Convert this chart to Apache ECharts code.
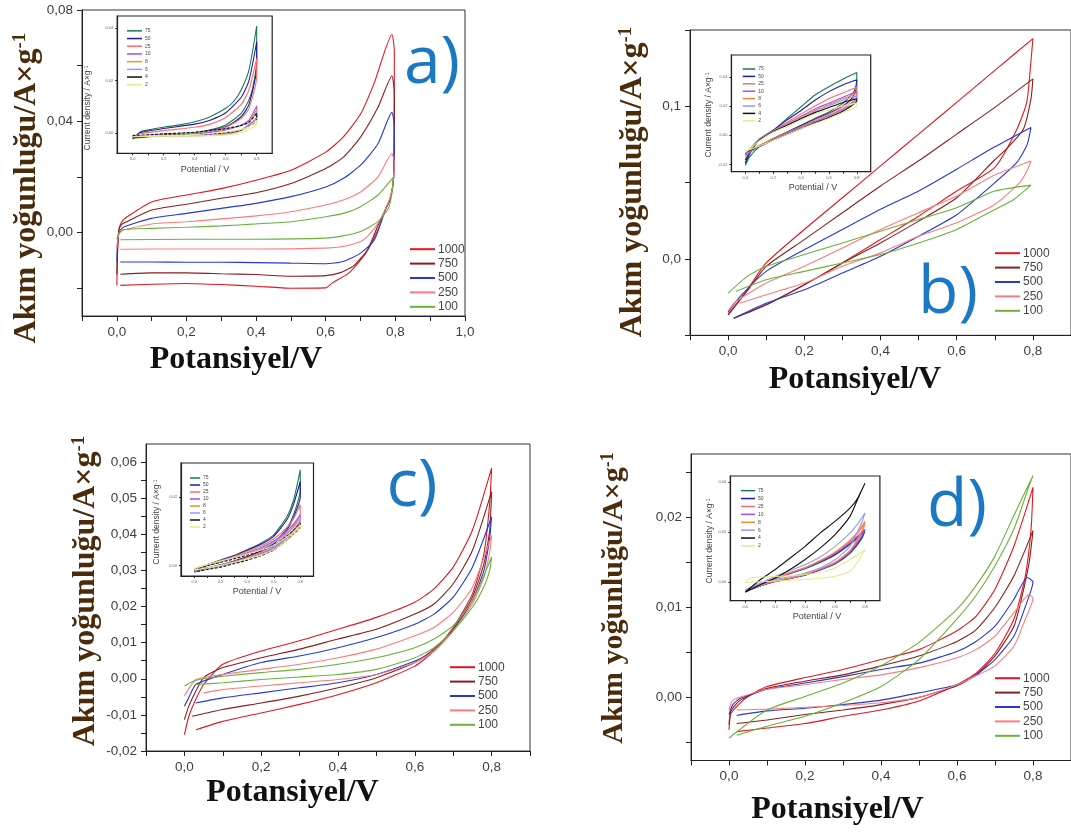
<!DOCTYPE html>
<html><head><meta charset="utf-8">
<script src="https://cdn.jsdelivr.net/npm/echarts@6/dist/echarts.min.js"></script>
<style>html,body{margin:0;padding:0;background:#fff}#c{width:1071px;height:832px}</style>
</head><body><div id="c"></div>
<script>
// ---------- names / colours ----------
const mainNames = ['1000','750','500','250','100'];
const insetNames = ['75','50','25','10','8','6','4','2'];

// ---------- tick labels ----------
const xLabelsA = [0,0.2,0.4,0.6,0.8,1.0];
const xTicksA = [-0.1,0,0.1,0.2,0.3,0.4,0.5,0.6,0.7,0.8,0.9,1.0];
const xLabels = [0,0.2,0.4,0.6,0.8];
const xTicks = [-0.1,0,0.1,0.2,0.3,0.4,0.5,0.6,0.7,0.8,0.9];
const yLabelsA = [0,0.04,0.08];
const yTicksA = [-0.02,0,0.02,0.04,0.06,0.08];
const yLabelsB = [0,0.1];
const yTicksB = [-0.05,0,0.05,0.1,0.15];
const yLabelsC = [-0.02,-0.01,0,0.01,0.02,0.03,0.04,0.05,0.06];
const yTicksC = [-0.02,-0.015,-0.01,-0.005,0,0.005,0.01,0.015,0.02,0.025,0.03,0.035,0.04,0.045,0.05,0.055,0.06];
const yLabelsD = [0,0.01,0.02];
const yTicksD = [-0.005,0,0.005,0.01,0.015,0.02,0.025];
const insXLabels = [0,0.2,0.4,0.6,0.8];
const insYLabelsA = [0,0.02,0.04];
const insYLabelsB = [-0.02,0,0.02,0.04];
const insYLabelsC = [0,0.02];
const insYLabelsD = [0,0.02,0.04];

// ---------- panel a (V, A/g) ----------
const a1000 = [[0,-0.019],[0.002,-0.008],[0.006,0.001],[0.015,0.004],[0.03,0.0057],[0.1,0.011],[0.2,0.0135],[0.3,0.0158],[0.4,0.0188],[0.5,0.0224],[0.6,0.0289],[0.65,0.0343],[0.7,0.0426],[0.74,0.054],[0.79,0.0712],[0.797,0.065],[0.795,0.02],[0.785,0.012],[0.772,0.0085],[0.75,0.001],[0.715,-0.0074],[0.667,-0.0145],[0.62,-0.018],[0.6,-0.0199],[0.5,-0.02],[0.4,-0.0193],[0.3,-0.0187],[0.2,-0.0183],[0.1,-0.0186],[0.01,-0.019]];
const a750 = [[0,-0.015],[0.002,-0.006],[0.006,0.001],[0.015,0.003],[0.03,0.004],[0.1,0.0081],[0.2,0.0102],[0.3,0.0123],[0.4,0.0143],[0.5,0.0176],[0.6,0.023],[0.65,0.027],[0.7,0.0343],[0.75,0.045],[0.79,0.0563],[0.797,0.05],[0.795,0.02],[0.785,0.012],[0.772,0.0085],[0.75,0.0025],[0.72,-0.0062],[0.68,-0.012],[0.64,-0.0145],[0.6,-0.0155],[0.5,-0.0157],[0.4,-0.0151],[0.3,-0.0148],[0.2,-0.0145],[0.1,-0.0145],[0.01,-0.015]];
const a500 = [[0,-0.0104],[0.002,-0.004],[0.008,0.0005],[0.02,0.002],[0.1,0.0051],[0.2,0.0069],[0.3,0.0087],[0.4,0.0105],[0.5,0.0129],[0.6,0.0164],[0.65,0.0194],[0.7,0.0242],[0.75,0.0319],[0.79,0.0432],[0.797,0.038],[0.795,0.02],[0.785,0.012],[0.772,0.0085],[0.74,-0.0026],[0.7,-0.0074],[0.65,-0.0104],[0.6,-0.0112],[0.5,-0.011],[0.4,-0.0108],[0.3,-0.0107],[0.2,-0.0107],[0.1,-0.0106],[0.01,-0.0106]];
const a250 = [[0,-0.0056],[0.003,-0.002],[0.01,0.0005],[0.02,0.001],[0.1,0.0031],[0.2,0.0039],[0.3,0.0049],[0.4,0.006],[0.5,0.0075],[0.6,0.0099],[0.65,0.0117],[0.7,0.0146],[0.75,0.02],[0.79,0.0283],[0.797,0.025],[0.79,0.015],[0.772,0.0085],[0.75,0.0033],[0.72,-0.0014],[0.7,-0.0032],[0.65,-0.005],[0.6,-0.0056],[0.4,-0.0059],[0.2,-0.0059],[0.01,-0.006]];
const a100 = [[0,-0.0024],[0.005,-0.0005],[0.02,0.001],[0.1,0.0015],[0.2,0.0019],[0.3,0.0024],[0.4,0.0031],[0.5,0.0039],[0.6,0.0057],[0.65,0.0069],[0.7,0.0093],[0.75,0.0135],[0.795,0.02],[0.79,0.014],[0.78,0.0087],[0.75,0.0039],[0.7,0.0004],[0.65,-0.0012],[0.6,-0.002],[0.4,-0.0024],[0.2,-0.0024],[0.01,-0.0026]];

// ---------- inset a ----------
const ia75 = [[0,-0.0023],[0.05,0.0006],[0.1,0.0013],[0.2,0.0023],[0.3,0.0032],[0.4,0.0044],[0.5,0.0063],[0.6,0.0095],[0.65,0.012],[0.7,0.0165],[0.75,0.024],[0.8,0.0408],[0.8,0.028],[0.78,0.019],[0.75,0.0127],[0.7,0.0076],[0.6,0.0032],[0.5,0.0013],[0.4,0.0003],[0.2,-0.0006],[0,-0.0019]];
const ia50 = [[0,-0.002],[0.05,0.0003],[0.2,0.0018],[0.4,0.0035],[0.5,0.005],[0.6,0.0078],[0.7,0.0137],[0.75,0.02],[0.8,0.0348],[0.8,0.025],[0.75,0.011],[0.7,0.0063],[0.6,0.0025],[0.4,0],[0.2,-0.0009],[0,-0.0016]];
const ia25 = [[0,-0.0015],[0.05,-0.0002],[0.2,0.001],[0.4,0.0023],[0.5,0.0035],[0.6,0.006],[0.7,0.011],[0.75,0.0165],[0.8,0.0285],[0.8,0.0215],[0.75,0.0095],[0.7,0.0057],[0.6,0.0023],[0.4,0],[0.2,-0.0009],[0,-0.0013]];
const ia10 = [[0,-0.0013],[0.2,-0.0006],[0.4,-0.0003],[0.6,0.0013],[0.7,0.0032],[0.75,0.005],[0.8,0.0104],[0.8,0.0063],[0.7,0.0013],[0.6,-0.0003],[0.4,-0.0009],[0.2,-0.001],[0,-0.001]];
const ia8 = [[0,-0.0012],[0.2,-0.0005],[0.4,0],[0.6,0.0015],[0.7,0.003],[0.75,0.0045],[0.8,0.0091],[0.8,0.0058],[0.7,0.0012],[0.6,-0.0002],[0.4,-0.0008],[0.2,-0.0009],[0,-0.0011]];
const ia6 = [[0,-0.0011],[0.2,-0.0003],[0.4,0.0002],[0.6,0.0016],[0.7,0.003],[0.75,0.0042],[0.8,0.0082],[0.8,0.0055],[0.7,0.0012],[0.6,0],[0.4,-0.0006],[0.2,-0.0008],[0,-0.001]];
const ia4 = [[0,-0.001],[0.2,-0.0002],[0.4,0.0004],[0.6,0.0018],[0.7,0.003],[0.75,0.0042],[0.8,0.0076],[0.8,0.005],[0.7,0.0012],[0.6,0.0002],[0.4,-0.0004],[0.2,-0.0006],[0,-0.0008]];
const ia2 = [[0,-0.0012],[0.2,-0.0008],[0.4,-0.0005],[0.6,0.0005],[0.7,0.0015],[0.75,0.0025],[0.8,0.005],[0.8,0.0035],[0.7,0.0003],[0.6,-0.0006],[0.4,-0.001],[0.2,-0.0011],[0,-0.0012]];

// ---------- panel b ----------
const b1000 = [[0,-0.0366],[0.05,-0.0202],[0.1,-0.0026],[0.2,0.0193],[0.3,0.0401],[0.4,0.061],[0.5,0.0818],[0.6,0.1026],[0.7,0.1235],[0.8,0.1443],[0.795,0.13],[0.784,0.1028],[0.758,0.085],[0.7,0.06],[0.6,0.0445],[0.5,0.028],[0.4,0.0127],[0.3,-0.0026],[0.2,-0.0169],[0.1,-0.03],[0.015,-0.0388]];
const b750 = [[0,-0.0366],[0.05,-0.021],[0.1,-0.0048],[0.2,0.0127],[0.3,0.0303],[0.4,0.0478],[0.5,0.0643],[0.6,0.0818],[0.7,0.0993],[0.8,0.118],[0.795,0.105],[0.775,0.085],[0.73,0.072],[0.7,0.065],[0.6,0.0401],[0.5,0.0248],[0.4,0.0105],[0.3,-0.0026],[0.2,-0.0169],[0.1,-0.03],[0.015,-0.0388]];
const b500 = [[0,-0.035],[0.03,-0.025],[0.1,-0.0081],[0.2,0.0061],[0.3,0.0193],[0.4,0.0325],[0.5,0.0445],[0.6,0.0588],[0.7,0.0735],[0.795,0.0862],[0.785,0.075],[0.758,0.0633],[0.7,0.05],[0.6,0.029],[0.5,0.0149],[0.4,0.0018],[0.3,-0.0092],[0.2,-0.0202],[0.1,-0.029],[0.015,-0.0388]];
const b250 = [[0,-0.034],[0.02,-0.028],[0.1,-0.0158],[0.2,-0.0048],[0.3,0.0072],[0.4,0.0193],[0.5,0.0303],[0.6,0.0412],[0.7,0.055],[0.795,0.0642],[0.785,0.058],[0.766,0.0502],[0.7,0.0357],[0.6,0.0237],[0.5,0.0149],[0.4,0.004],[0.3,-0.0048],[0.2,-0.0158],[0.1,-0.0235],[0.03,-0.029]];
const b100 = [[0,-0.0224],[0.05,-0.0114],[0.1,-0.0048],[0.2,0.0029],[0.3,0.0105],[0.4,0.0182],[0.5,0.0259],[0.6,0.0336],[0.7,0.0445],[0.795,0.0484],[0.75,0.039],[0.7,0.0324],[0.6,0.0193],[0.5,0.0105],[0.4,0.0029],[0.3,-0.0026],[0.2,-0.0081],[0.1,-0.0136],[0.02,-0.0213]];

// ---------- inset b ----------
const ib75 = [[0,-0.0207],[0.02,-0.015],[0.1,-0.0034],[0.2,0.0034],[0.3,0.0115],[0.4,0.0195],[0.5,0.0276],[0.6,0.0333],[0.7,0.0384],[0.8,0.043],[0.8,0.038],[0.78,0.03],[0.7,0.0218],[0.6,0.016],[0.5,0.0115],[0.4,0.0069],[0.3,0.0023],[0.2,-0.0023],[0.1,-0.008],[0.03,-0.015],[0,-0.0207]];
const ib50 = [[0,-0.019],[0.03,-0.012],[0.1,-0.0028],[0.2,0.0034],[0.3,0.0105],[0.4,0.017],[0.5,0.024],[0.6,0.0299],[0.7,0.0345],[0.8,0.038],[0.8,0.033],[0.77,0.026],[0.7,0.02],[0.6,0.015],[0.5,0.011],[0.4,0.0065],[0.3,0.002],[0.2,-0.0025],[0.1,-0.0075],[0.03,-0.012],[0,-0.017]];
const ib25 = [[0,-0.016],[0.03,-0.011],[0.1,-0.003],[0.2,0.003],[0.3,0.009],[0.4,0.0145],[0.5,0.02],[0.6,0.025],[0.7,0.029],[0.8,0.033],[0.8,0.028],[0.75,0.023],[0.7,0.0195],[0.6,0.0145],[0.5,0.0105],[0.4,0.006],[0.3,0.002],[0.2,-0.0025],[0.1,-0.007],[0,-0.014]];
const ib10 = [[0,-0.014],[0.03,-0.01],[0.1,-0.0025],[0.2,0.003],[0.3,0.008],[0.4,0.013],[0.5,0.018],[0.6,0.022],[0.7,0.026],[0.8,0.03],[0.8,0.026],[0.7,0.018],[0.6,0.0135],[0.5,0.0095],[0.4,0.0055],[0.3,0.0015],[0.2,-0.003],[0.1,-0.0075],[0,-0.013]];
const ib8 = [[0,-0.013],[0.1,-0.003],[0.2,0.0028],[0.3,0.0075],[0.4,0.0125],[0.5,0.017],[0.6,0.021],[0.7,0.025],[0.8,0.0287],[0.8,0.025],[0.7,0.0175],[0.6,0.013],[0.5,0.009],[0.4,0.005],[0.3,0.001],[0.2,-0.003],[0.1,-0.0075],[0,-0.012]];
const ib6 = [[0,-0.0135],[0.1,-0.0032],[0.2,0.0026],[0.3,0.0072],[0.4,0.012],[0.5,0.0163],[0.6,0.0202],[0.7,0.024],[0.8,0.027],[0.8,0.0245],[0.7,0.017],[0.6,0.0127],[0.5,0.0088],[0.4,0.0048],[0.3,0.0008],[0.2,-0.0032],[0.1,-0.0078],[0,-0.0125]];
const ib4 = [[0,-0.0125],[0.1,-0.0035],[0.2,0.0024],[0.3,0.0068],[0.4,0.0113],[0.5,0.0155],[0.6,0.019],[0.7,0.0225],[0.8,0.025],[0.8,0.0235],[0.7,0.0165],[0.6,0.0122],[0.5,0.0085],[0.4,0.0046],[0.3,0.0006],[0.2,-0.0033],[0.1,-0.0078],[0,-0.0118]];
const ib2 = [[0,-0.012],[0.1,-0.004],[0.2,0.002],[0.3,0.006],[0.4,0.0105],[0.5,0.0145],[0.6,0.0175],[0.7,0.02],[0.8,0.022],[0.8,0.02],[0.7,0.0155],[0.6,0.0115],[0.5,0.008],[0.4,0.0045],[0.3,0.0005],[0.2,-0.0035],[0.1,-0.0075],[0,-0.011]];

// ---------- panel c ----------
const c1000 = [[0,-0.0155],[0.01,-0.011],[0.02,-0.008],[0.05,-0.0016],[0.1,0.004],[0.2,0.0077],[0.3,0.0105],[0.4,0.0137],[0.5,0.017],[0.6,0.0212],[0.65,0.0249],[0.7,0.0309],[0.75,0.0411],[0.8,0.0583],[0.795,0.0485],[0.78,0.0346],[0.75,0.0235],[0.7,0.0142],[0.65,0.0077],[0.6,0.0035],[0.5,-0.0011],[0.4,-0.0044],[0.3,-0.0071],[0.2,-0.0095],[0.1,-0.0118],[0.03,-0.0141]];
const c750 = [[0,-0.0113],[0.01,-0.008],[0.02,-0.0055],[0.05,0.0003],[0.1,0.0031],[0.2,0.0058],[0.3,0.0082],[0.4,0.011],[0.5,0.0137],[0.6,0.0179],[0.65,0.0207],[0.7,0.0263],[0.75,0.0355],[0.8,0.0518],[0.795,0.0411],[0.78,0.0318],[0.75,0.0226],[0.7,0.0137],[0.65,0.0082],[0.6,0.0045],[0.5,0.0003],[0.4,-0.0025],[0.3,-0.0048],[0.2,-0.0067],[0.1,-0.0085],[0.02,-0.0104]];
const c500 = [[0,-0.0076],[0.01,-0.0055],[0.03,-0.0016],[0.1,0.0012],[0.2,0.0045],[0.3,0.0063],[0.4,0.0086],[0.5,0.0114],[0.6,0.0151],[0.65,0.0179],[0.7,0.0226],[0.75,0.0309],[0.8,0.0448],[0.795,0.039],[0.78,0.03],[0.75,0.0217],[0.7,0.0133],[0.65,0.0077],[0.6,0.0049],[0.5,0.0012],[0.4,-0.0011],[0.3,-0.0025],[0.2,-0.0039],[0.1,-0.0053],[0.03,-0.0067]];
const c250 = [[0,-0.0048],[0.01,-0.003],[0.03,-0.0002],[0.1,0.0012],[0.2,0.0026],[0.3,0.004],[0.4,0.0058],[0.5,0.0082],[0.6,0.0119],[0.65,0.0142],[0.7,0.0184],[0.75,0.0253],[0.8,0.0397],[0.795,0.035],[0.78,0.0281],[0.75,0.0207],[0.7,0.0133],[0.65,0.0077],[0.6,0.0045],[0.5,0.0012],[0.4,-0.0002],[0.3,-0.0011],[0.2,-0.002],[0.1,-0.003],[0.05,-0.0039]];
const c100 = [[0,-0.002],[0.02,-0.0008],[0.05,0],[0.1,0.0007],[0.2,0.0017],[0.3,0.0026],[0.4,0.004],[0.5,0.0058],[0.6,0.0086],[0.65,0.011],[0.7,0.0147],[0.75,0.0216],[0.8,0.0337],[0.795,0.03],[0.78,0.0255],[0.75,0.0198],[0.7,0.0133],[0.65,0.0086],[0.6,0.0058],[0.5,0.0026],[0.4,0.0012],[0.3,0.0005],[0.2,-0.0002],[0.1,-0.0011],[0.03,-0.0016]];

// ---------- inset c ----------
const ic75 = [[0,-0.0012],[0.1,0.0003],[0.2,0.0017],[0.3,0.003],[0.4,0.0047],[0.5,0.0065],[0.6,0.009],[0.7,0.0144],[0.75,0.0192],[0.8,0.028],[0.8,0.022],[0.75,0.015],[0.7,0.011],[0.6,0.0065],[0.5,0.0043],[0.4,0.0027],[0.3,0.0014],[0.2,0.0003],[0.1,-0.0006],[0,-0.0014]];
const ic50 = [[0,-0.0012],[0.1,0.0003],[0.2,0.0016],[0.3,0.0029],[0.4,0.0045],[0.5,0.0062],[0.6,0.0086],[0.7,0.0135],[0.75,0.018],[0.8,0.0246],[0.8,0.02],[0.75,0.0142],[0.7,0.0105],[0.6,0.0063],[0.5,0.0042],[0.4,0.0026],[0.3,0.0013],[0.2,0.0002],[0.1,-0.0007],[0,-0.0015]];
const ic25 = [[0,-0.0012],[0.1,0.0003],[0.2,0.0015],[0.3,0.0027],[0.4,0.0042],[0.5,0.0057],[0.6,0.0078],[0.7,0.0112],[0.75,0.0138],[0.8,0.0178],[0.8,0.015],[0.75,0.0118],[0.7,0.0092],[0.6,0.0058],[0.5,0.0039],[0.4,0.0024],[0.3,0.0012],[0.2,0.0002],[0.1,-0.0007],[0,-0.0015]];
const ic10 = [[0,-0.0013],[0.1,0.0002],[0.2,0.0014],[0.3,0.0025],[0.4,0.0038],[0.5,0.0052],[0.6,0.0072],[0.7,0.0102],[0.75,0.0122],[0.8,0.0149],[0.8,0.013],[0.75,0.0105],[0.7,0.0085],[0.6,0.0053],[0.5,0.0035],[0.4,0.0021],[0.3,0.001],[0.2,0],[0.1,-0.0008],[0,-0.0016]];
const ic8 = [[0,-0.0013],[0.1,0.0002],[0.2,0.0013],[0.3,0.0024],[0.4,0.0036],[0.5,0.0049],[0.6,0.0068],[0.7,0.0095],[0.75,0.0112],[0.8,0.0134],[0.8,0.012],[0.75,0.0098],[0.7,0.008],[0.6,0.005],[0.5,0.0033],[0.4,0.002],[0.3,0.0009],[0.2,-0.0001],[0.1,-0.0009],[0,-0.0017]];
const ic6 = [[0,-0.0014],[0.1,0.0001],[0.2,0.0012],[0.3,0.0023],[0.4,0.0035],[0.5,0.0048],[0.6,0.0068],[0.7,0.0097],[0.75,0.0115],[0.8,0.014],[0.8,0.0125],[0.75,0.01],[0.7,0.0081],[0.6,0.005],[0.5,0.0032],[0.4,0.0019],[0.3,0.0008],[0.2,-0.0002],[0.1,-0.001],[0,-0.0018]];
const ic4 = [[0,-0.0012],[0.1,0],[0.2,0.001],[0.3,0.002],[0.4,0.0031],[0.5,0.0043],[0.6,0.006],[0.7,0.0087],[0.75,0.0103],[0.8,0.0124],[0.8,0.0112],[0.75,0.0092],[0.7,0.0074],[0.6,0.0046],[0.5,0.0029],[0.4,0.0016],[0.3,0.0006],[0.2,-0.0004],[0.1,-0.0011],[0,-0.0018]];
const ic2 = [[0,-0.0008],[0.1,0.0004],[0.2,0.0014],[0.3,0.0024],[0.4,0.0034],[0.5,0.0045],[0.6,0.006],[0.7,0.0084],[0.75,0.0099],[0.8,0.012],[0.8,0.011],[0.75,0.009],[0.7,0.0073],[0.6,0.0047],[0.5,0.0031],[0.4,0.002],[0.3,0.001],[0.2,0.0001],[0.1,-0.0006],[0,-0.0012]];

// ---------- panel d ----------
const d1000 = [[0,-0.0036],[0.005,-0.0018],[0.03,-0.0006],[0.05,0.0001],[0.1,0.0012],[0.2,0.0022],[0.3,0.0031],[0.4,0.0042],[0.5,0.0053],[0.6,0.0074],[0.65,0.009],[0.7,0.012],[0.75,0.0168],[0.8,0.0233],[0.795,0.0187],[0.78,0.0135],[0.75,0.0087],[0.7,0.0049],[0.65,0.0027],[0.6,0.0014],[0.5,-0.0004],[0.4,-0.0014],[0.3,-0.0021],[0.2,-0.0029],[0.1,-0.0034],[0.02,-0.0038]];
const d750 = [[0,-0.003],[0.005,-0.0015],[0.03,-0.0003],[0.1,0.001],[0.2,0.0018],[0.3,0.0025],[0.4,0.0035],[0.5,0.0046],[0.6,0.0062],[0.65,0.0075],[0.7,0.01],[0.75,0.0135],[0.8,0.0185],[0.79,0.015],[0.77,0.011],[0.75,0.0079],[0.7,0.0046],[0.65,0.0025],[0.6,0.0013],[0.5,0],[0.4,-0.0008],[0.3,-0.0014],[0.2,-0.0019],[0.1,-0.0025],[0.02,-0.0029]];
const d500 = [[0,-0.0019],[0.01,-0.0008],[0.03,-0.0001],[0.1,0.0009],[0.2,0.0016],[0.3,0.0023],[0.4,0.0031],[0.5,0.0038],[0.6,0.0051],[0.65,0.0062],[0.7,0.0079],[0.75,0.0109],[0.785,0.0133],[0.8,0.0128],[0.78,0.0101],[0.75,0.0068],[0.7,0.0042],[0.65,0.0025],[0.6,0.0014],[0.5,0.0005],[0.4,-0.0003],[0.3,-0.0008],[0.2,-0.0012],[0.1,-0.0015],[0.02,-0.002]];
const d250 = [[0,-0.0014],[0.01,-0.0003],[0.05,0.0003],[0.1,0.0009],[0.2,0.0014],[0.3,0.002],[0.4,0.0025],[0.5,0.0033],[0.6,0.0044],[0.65,0.0053],[0.7,0.0068],[0.75,0.0094],[0.79,0.0114],[0.8,0.011],[0.78,0.0087],[0.75,0.0057],[0.7,0.0035],[0.65,0.0024],[0.6,0.0014],[0.5,0],[0.4,-0.0006],[0.3,-0.0009],[0.2,-0.0011],[0.1,-0.0013],[0.02,-0.0014]];
const d100 = [[0,-0.0045],[0.1,-0.0014],[0.2,0.0001],[0.3,0.0016],[0.4,0.0035],[0.5,0.0061],[0.6,0.0098],[0.65,0.0124],[0.7,0.0157],[0.75,0.0202],[0.8,0.0246],[0.79,0.0235],[0.75,0.0187],[0.7,0.0146],[0.65,0.0113],[0.6,0.0087],[0.5,0.0042],[0.4,0.0012],[0.3,-0.0006],[0.2,-0.0021],[0.1,-0.0032],[0.02,-0.0042]];

// ---------- inset d ----------
const id75 = [[0,-0.0037],[0.1,-0.0012],[0.2,0.0014],[0.3,0.0034],[0.4,0.0053],[0.5,0.0078],[0.6,0.0108],[0.7,0.015],[0.75,0.0175],[0.8,0.0203],[0.78,0.0175],[0.7,0.0115],[0.6,0.0072],[0.5,0.0048],[0.4,0.0027],[0.3,0.0014],[0.2,0.0002],[0.1,-0.0015],[0,-0.0038]];
const id50 = [[0,-0.0038],[0.1,-0.0011],[0.2,0.0015],[0.3,0.0035],[0.4,0.0055],[0.5,0.008],[0.6,0.011],[0.7,0.0154],[0.75,0.018],[0.8,0.021],[0.78,0.018],[0.7,0.0118],[0.6,0.0074],[0.5,0.0049],[0.4,0.0028],[0.3,0.0014],[0.2,0.0002],[0.1,-0.0016],[0,-0.0039]];
const id25 = [[0,-0.0036],[0.1,-0.001],[0.2,0.0016],[0.3,0.0037],[0.4,0.0057],[0.5,0.0084],[0.6,0.0117],[0.7,0.0164],[0.75,0.0195],[0.8,0.0236],[0.78,0.0198],[0.7,0.0124],[0.6,0.0077],[0.5,0.0051],[0.4,0.003],[0.3,0.0015],[0.2,0.0003],[0.1,-0.0015],[0,-0.0037]];
const id10 = [[0,-0.0037],[0.1,-0.0011],[0.2,0.0015],[0.3,0.0036],[0.4,0.0056],[0.5,0.0082],[0.6,0.0114],[0.7,0.0158],[0.75,0.0184],[0.8,0.021],[0.78,0.0185],[0.7,0.012],[0.6,0.0075],[0.5,0.005],[0.4,0.0029],[0.3,0.0015],[0.2,0.0003],[0.1,-0.0015],[0,-0.0038]];
const id8 = [[0,-0.0035],[0.1,-0.0009],[0.2,0.0017],[0.3,0.0038],[0.4,0.0058],[0.5,0.0086],[0.6,0.012],[0.7,0.0168],[0.75,0.02],[0.8,0.0243],[0.78,0.0205],[0.7,0.0127],[0.6,0.0079],[0.5,0.0053],[0.4,0.0031],[0.3,0.0016],[0.2,0.0004],[0.1,-0.0014],[0,-0.0036]];
const id6 = [[0,-0.0031],[0.1,-0.0004],[0.2,0.0023],[0.3,0.0046],[0.4,0.0069],[0.5,0.01],[0.6,0.0143],[0.7,0.0196],[0.75,0.0232],[0.8,0.0276],[0.78,0.024],[0.7,0.0143],[0.6,0.0089],[0.5,0.0056],[0.4,0.0036],[0.3,0.0022],[0.2,0.0009],[0.1,-0.0008],[0,-0.0031]];
const id4 = [[0,-0.0041],[0.1,0.0009],[0.2,0.005],[0.3,0.0096],[0.4,0.0143],[0.5,0.0196],[0.6,0.0243],[0.7,0.0296],[0.75,0.0335],[0.8,0.0396],[0.75,0.033],[0.7,0.0263],[0.6,0.019],[0.5,0.0136],[0.4,0.009],[0.3,0.005],[0.2,0.0016],[0.1,-0.0011],[0,-0.0041]];
const id2 = [[0,0.0002],[0.05,0.0018],[0.2,0.0022],[0.4,0.003],[0.5,0.0038],[0.6,0.0056],[0.7,0.009],[0.75,0.0108],[0.8,0.0129],[0.75,0.008],[0.7,0.0043],[0.6,0.0023],[0.5,0.0015],[0.4,0.001],[0.2,0.0004],[0,-0.0002]];

// ---------- styling ----------
const mainColors = ['#e3161e','#8b1d1d','#2438d6','#ff7b7b','#6ab23a'];
const insetColors = ['#1b7a4f','#1c1ca6','#ff6a6a','#a24dff','#ff8a2a','#8f9dff','#111111','#e8e88a'];
const fmt = d => v => v.toFixed(d).replace('.', ',');
const fmtDot = d => v => v.toFixed(d);

const mains = [
  {grid:{left:82,top:10,width:383,height:306}, x:[-0.1,1.0], y:[-0.03,0.08], xl:xLabelsA, xt:xTicksA, yl:yLabelsA, yt:yTicksA, yd:2,
   data:[a1000,a750,a500,a250,a100], lg:{left:410,top:242}},
  {grid:{left:690,top:30,width:383.5,height:305.3}, x:[-0.1,0.9], y:[-0.05,0.15], xl:xLabels, xt:xTicks, yl:yLabelsB, yt:yTicksB, yd:1,
   data:[b1000,b750,b500,b250,b100], lg:{left:995,top:246}},
  {grid:{left:146,top:444,width:384,height:307}, x:[-0.1,0.9], y:[-0.02,0.065], xl:xLabels, xt:xTicks, yl:yLabelsC, yt:yTicksC, yd:2,
   data:[c1000,c750,c500,c250,c100], lg:{left:450,top:660}},
  {grid:{left:691,top:454,width:383.5,height:306.5}, x:[-0.1,0.9], y:[-0.007,0.027], xl:xLabels, xt:xTicks, yl:yLabelsD, yt:yTicksD, yd:2,
   data:[d1000,d750,d500,d250,d100], lg:{left:995,top:671}}
];
const insets = [
  {grid:{left:117.2,top:16,width:155,height:137.3}, y:[-0.0076,0.0446], yl:insYLabelsA,
   data:[ia75,ia50,ia25,ia10,ia8,ia6,ia4,ia2], lg:{left:127,top:27,w:15,h:7.7}, dash:true},
  {grid:{left:731.4,top:55,width:139.3,height:116.7}, y:[-0.025,0.055], yl:insYLabelsB,
   data:[ib75,ib50,ib25,ib10,ib8,ib6,ib4,ib2], lg:{left:742.7,top:65.3,w:12.5,h:7.4}, dash:false},
  {grid:{left:181,top:463,width:132.5,height:113}, y:[-0.003,0.03], yl:insYLabelsC,
   data:[ic75,ic50,ic25,ic10,ic8,ic6,ic4,ic2], lg:{left:190,top:474.5,w:10,h:7}, dash:true},
  {grid:{left:730.3,top:476,width:149.6,height:124.7}, y:[-0.0075,0.0425], yl:insYLabelsD,
   data:[id75,id50,id25,id10,id8,id6,id4,id2], lg:{left:741,top:486.7,w:14,h:7.9}, dash:false}
];

const grid=[], xAxis=[], yAxis=[], series=[], legend=[];
const AX = '#222', LBL = '#404040', SANS = 'Liberation Sans';

mains.forEach((p,i)=>{
  grid.push(Object.assign({show:true, borderColor:'#333', borderWidth:1, backgroundColor:'transparent'}, p.grid));
  xAxis.push({type:'value', gridIndex:i, min:p.x[0], max:p.x[1],
    axisLine:{show:true, onZero:false, lineStyle:{color:AX,width:1}},
    axisTick:{show:true, customValues:p.xt, length:5, lineStyle:{color:AX}},
    axisLabel:{customValues:p.xl, formatter:fmt(1), color:LBL, fontSize:13.5, fontFamily:SANS, margin:9},
    splitLine:{show:false}});
  yAxis.push({type:'value', gridIndex:i, min:p.y[0], max:p.y[1],
    axisLine:{show:true, onZero:false, lineStyle:{color:AX,width:1}},
    axisTick:{show:true, customValues:p.yt, length:5, lineStyle:{color:AX}},
    axisLabel:{customValues:p.yl, formatter:fmt(p.yd), color:LBL, fontSize:13.5, fontFamily:SANS, margin:9},
    splitLine:{show:false}});
  p.data.forEach((d,k)=>{
    series.push({type:'line', name:mainNames[k], xAxisIndex:i, yAxisIndex:i, data:d,
      showSymbol:false, smooth:0.2, z:2, color:mainColors[k],
      itemStyle:{color:mainColors[k]}, lineStyle:{color:mainColors[k], width:1.1}});
  });
  legend.push({orient:'vertical', left:p.lg.left, top:p.lg.top, padding:0, itemGap:0,
    itemWidth:25, itemHeight:2, icon:'rect', data:mainNames, selectedMode:false,
    textStyle:{color:'#444', fontSize:12, fontFamily:SANS, lineHeight:14.4, padding:[0,0,0,-2]}});
});

insets.forEach((p,j)=>{
  const gi = 4+j;
  grid.push(Object.assign({show:true, borderColor:'#222', borderWidth:1.2, backgroundColor:'#fff', z:3}, p.grid));
  xAxis.push({type:'value', gridIndex:gi, min:-0.1, max:0.9, z:4,
    axisLine:{show:true, onZero:false, lineStyle:{color:AX,width:1.2}},
    axisTick:{show:true, customValues:[0,0.1,0.2,0.3,0.4,0.5,0.6,0.7,0.8], length:2, lineStyle:{color:AX}},
    axisLabel:{customValues:insXLabels, formatter:fmtDot(1), color:'#666', fontSize:4, fontFamily:SANS, margin:4},
    splitLine:{show:false}});
  yAxis.push({type:'value', gridIndex:gi, min:p.y[0], max:p.y[1], z:4,
    axisLine:{show:true, onZero:false, lineStyle:{color:AX,width:1.2}},
    axisTick:{show:true, customValues:p.yl, length:2, lineStyle:{color:AX}},
    axisLabel:{customValues:p.yl, formatter:fmtDot(2), color:'#666', fontSize:4, fontFamily:SANS, margin:4},
    splitLine:{show:false}});
  p.data.forEach((d,k)=>{
    const c = insetColors[k];
    series.push({type:'line', name:insetNames[k], xAxisIndex:gi, yAxisIndex:gi, data:d,
      showSymbol:false, smooth:0.2, z:5, color:c, itemStyle:{color:c},
      lineStyle:{color:c, width:1.1, type:(p.dash && k===6)?[3,1.5]:'solid'}});
  });
  legend.push({orient:'vertical', left:p.lg.left, top:p.lg.top, padding:0, itemGap:0, z:6,
    itemWidth:p.lg.w, itemHeight:1.5, icon:'rect', data:insetNames, selectedMode:false,
    textStyle:{color:'#444', fontSize:5, fontFamily:SANS, lineHeight:p.lg.h, padding:[0,0,0,-2]}});
});

// ---------- texts ----------
const SERIF = 'Liberation Serif';
const yTitle = (x,y,fs) => ({type:'text', x:x, y:y, rotation:Math.PI/2, z:10,
  style:{text:'Akım yoğunluğu/A×g{s|-1}', fontFamily:SERIF, fontWeight:'bold', fontSize:fs, fill:'#4a2c0c',
    align:'center', verticalAlign:'middle',
    rich:{s:{fontFamily:SERIF, fontWeight:'bold', fontSize:Math.round(fs*0.6), fill:'#4a2c0c', verticalAlign:'top', lineHeight:fs}}}});
const xTitle = (x,y) => ({type:'text', x:x, y:y, z:10,
  style:{text:'Potansiyel/V', fontFamily:SERIF, fontWeight:'bold', fontSize:32, fill:'#111', align:'center', verticalAlign:'middle'}});
const tag = (t,x,y) => ({type:'text', x:x, y:y, z:10,
  style:{text:t, fontFamily:'Open Sans', fontSize:66, fill:'#1b78c2', align:'center', verticalAlign:'middle'}});
const insX = (x,y) => ({type:'text', x:x, y:y, z:10,
  style:{text:'Potential / V', fontFamily:SANS, fontSize:9, fill:'#444', align:'center', verticalAlign:'middle'}});
const insY = (x,y) => ({type:'text', x:x, y:y, rotation:Math.PI/2, z:10,
  style:{text:'Current density / A×g{s|-1}', fontFamily:SANS, fontSize:8.5, fill:'#444', align:'center', verticalAlign:'middle',
    rich:{s:{fontFamily:SANS, fontSize:5.5, fill:'#444', verticalAlign:'top', lineHeight:9}}}});

const graphic = [
  yTitle(27,188,32), yTitle(633,182,32), yTitle(86,591,32), yTitle(614,598,30),
  xTitle(236,360), xTitle(855,380), xTitle(292.5,793), xTitle(837.5,810),
  tag('a)',432,64), tag('b)',948,294), tag('c)',412,487), tag('d)',957,507),
  insX(205,170), insX(813,188), insX(257,592), insX(817,617),
  insY(88,108), insY(709,115), insY(157,522), insY(710,541)
];

const chart = echarts.init(document.getElementById('c'), null, {renderer:'canvas'});
chart.setOption({animation:false, backgroundColor:'#fff', grid, xAxis, yAxis, series, legend, graphic});
</script></body></html>
